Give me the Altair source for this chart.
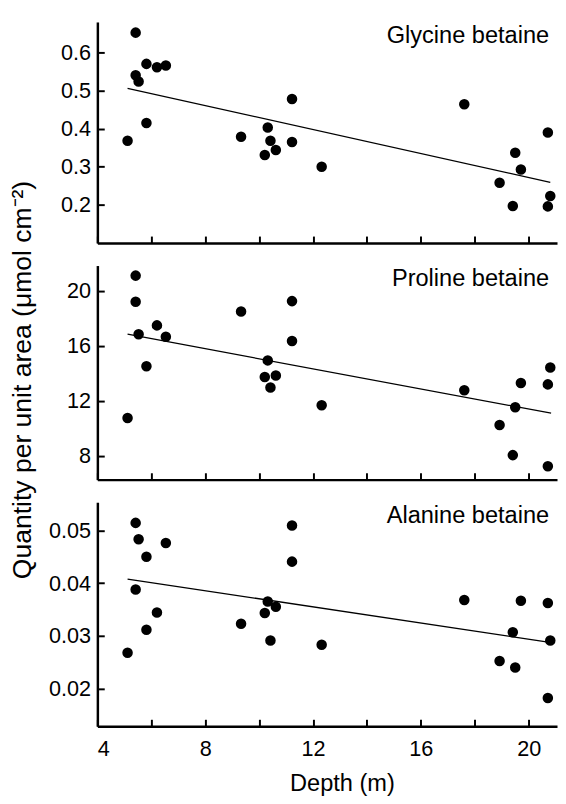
import altair as alt
import pandas as pd

FONT = "Liberation Sans"

# ---- data ----
gly_depth = [5.12, 5.42, 5.42, 5.53, 5.82, 5.82, 6.21, 6.54, 9.33, 10.32, 10.21, 10.42,
             10.62, 11.22, 11.22, 12.32, 17.61, 18.92, 19.41, 19.50, 19.71, 20.71, 20.80, 20.71]
gly_val = [0.368, 0.652, 0.540, 0.524, 0.570, 0.415, 0.561, 0.566, 0.379, 0.403, 0.331, 0.368,
           0.344, 0.478, 0.365, 0.300, 0.464, 0.258, 0.197, 0.337, 0.293, 0.390, 0.223, 0.196]
gly_fit_x = [5.12, 20.80]
gly_fit_y = [0.506, 0.259]

pro_depth = [5.12, 5.42, 5.42, 5.53, 5.82, 6.21, 6.54, 9.33, 10.32, 10.21, 10.62, 10.42,
             11.22, 11.22, 12.32, 17.61, 18.92, 19.41, 19.50, 19.71, 20.71, 20.80, 20.71]
pro_val = [10.76, 21.09, 19.19, 16.84, 14.51, 17.48, 16.65, 18.48, 14.94, 13.73, 13.85, 12.97,
           19.24, 16.34, 11.68, 12.78, 10.26, 8.07, 11.54, 13.30, 13.20, 14.42, 7.26]
pro_fit_x = [5.12, 20.83]
pro_fit_y = [16.84, 11.11]

ala_depth = [5.12, 5.42, 5.53, 5.42, 5.82, 5.82, 6.21, 6.54, 9.33, 10.32, 10.21, 10.62,
             10.42, 11.22, 11.22, 12.32, 17.61, 18.92, 19.41, 19.50, 19.71, 20.71, 20.80, 20.71]
ala_val = [0.02685, 0.05143, 0.04832, 0.03880, 0.04502, 0.03120, 0.03444, 0.04763, 0.03232,
           0.03656, 0.03438, 0.03556, 0.02915, 0.05093, 0.04409, 0.02834, 0.03681, 0.02529,
           0.03071, 0.02405, 0.03668, 0.03625, 0.02915, 0.01826]
ala_fit_x = [5.12, 20.78]
ala_fit_y = [0.0408, 0.0288]

x_ticks = [4, 6, 8, 10, 12, 14, 16, 18, 20]
x_domain = [4, 21.05]

panel_names = ["Glycine betaine", "Proline betaine", "Alanine betaine"]
gly_ticks = [0.2, 0.3, 0.4, 0.5, 0.6]
pro_ticks = [8, 12, 16, 20]
ala_ticks = [0.02, 0.03, 0.04, 0.05]

W = 468
TICK = 7


def panel(depths, vals, fx, fy, name, ydom, yticks, yfmt, h, bottom=False, ytitle=None):
    pts = pd.DataFrame({"depth": depths, "value": vals})
    fit = pd.DataFrame({"depth": fx, "value": fy})
    lab = pd.DataFrame({"label": [name]})

    xaxis_kw = dict(values=x_ticks, domainColor="black", domainWidth=2.5, ticks=False,
                    tickSize=0, grid=True, gridColor="black", gridWidth=2, gridOpacity=1,
                    gridDash=[TICK, h - TICK], gridDashOffset=TICK)
    if bottom:
        xaxis_kw.update(labels=True, labelExpr="datum.value % 4 == 0 ? datum.label : ''",
                        labelFont=FONT, labelFontSize=22, labelColor="black", labelPadding=13,
                        title="Depth (m)", titleFont=FONT, titleFontSize=24,
                        titleFontWeight="normal", titleColor="black", titleY=47,
                        titleBaseline="top", titleX=249)
    else:
        xaxis_kw.update(labels=False)
    xenc = alt.X("depth:Q", scale=alt.Scale(domain=x_domain, nice=False, zero=False),
                 axis=alt.Axis(**xaxis_kw), title="Depth (m)" if bottom else None)

    yaxis_kw = dict(values=yticks, format=yfmt, domainColor="black", domainWidth=2.5,
                    ticks=False, tickSize=0, grid=True, gridColor="black", gridWidth=2,
                    gridOpacity=1, gridDash=[TICK, 2000], labelFont=FONT, labelFontSize=22,
                    labelColor="black", labelPadding=7)
    if ytitle:
        yaxis_kw.update(title=ytitle, titleFont=FONT, titleFontSize=27, titleFontWeight="normal",
                        titleColor="black", titleX=-76, titleY=116, titleBaseline="middle")
    yenc = alt.Y("value:Q", scale=alt.Scale(domain=ydom, nice=False, zero=False),
                 axis=alt.Axis(**yaxis_kw), title=ytitle if ytitle else None)

    dots = alt.Chart(pts).mark_circle(size=115, color="black", opacity=1).encode(x=xenc, y=yenc)
    line = alt.Chart(fit).mark_line(color="black", strokeWidth=1.3).encode(x="depth:Q", y="value:Q")
    text = alt.Chart(lab).mark_text(align="right", baseline="middle", font=FONT, fontSize=24,
                                    color="black").encode(
        text="label:N", x=alt.value(W - 8), y=alt.value(14))
    return alt.layer(dots, line, text).properties(width=W, height=h)


p1 = panel(gly_depth, gly_val, gly_fit_x, gly_fit_y, panel_names[0], [0.1, 0.68], gly_ticks, ".1f", 225)
p2 = panel(pro_depth, pro_val, pro_fit_x, pro_fit_y, panel_names[1], [6.29, 21.82], pro_ticks, "d", 218,
           ytitle="Quantity per unit area (\u03bcmol cm\u207b\u00b2)")
p3 = panel(ala_depth, ala_val, ala_fit_x, ala_fit_y, panel_names[2], [0.01293, 0.05534], ala_ticks, ".2f", 228,
           bottom=True)

chart = alt.vconcat(p1, p2, p3, spacing=23, bounds="flush").properties(
    padding={"top": 7, "left": 0, "right": 1, "bottom": 0}
).configure_view(strokeOpacity=0)

chart.save("out.html", embed_options={"renderer": "svg", "actions": False})
